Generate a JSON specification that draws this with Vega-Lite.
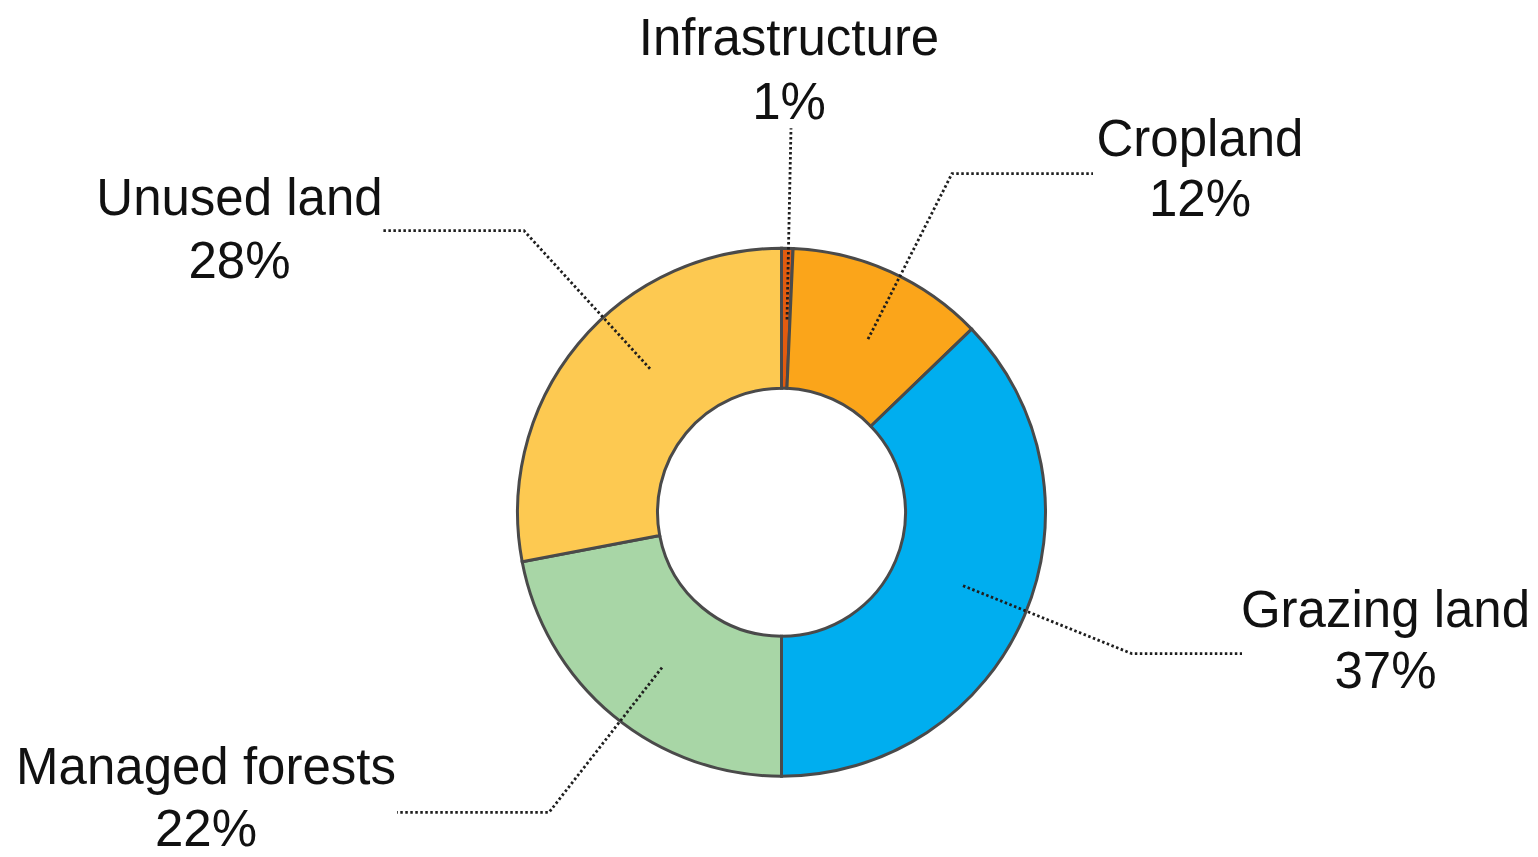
{
  "$schema": "https://vega.github.io/schema/vega-lite/v6.json",
  "width": 1538,
  "height": 857,
  "autosize": {"type": "fit", "contains": "padding"},
  "padding": 0,
  "background": "white",
  "config": {"view": {"stroke": null}},
  "datasets": {
    "slices": [
      {"category": "Infrastructure", "share": 0.7, "idx": 1},
      {"category": "Cropland", "share": 12.1, "idx": 2},
      {"category": "Grazing land", "share": 37.2, "idx": 3},
      {"category": "Managed forests", "share": 22.0, "idx": 4},
      {"category": "Unused land", "share": 28.0, "idx": 5}
    ],
    "labels": [
      {"text": "Infrastructure", "lx": 7.5, "ly": 463.5},
      {"text": "1%", "lx": 7.5, "ly": 398.5},
      {"text": "Cropland", "lx": 418.5, "ly": 361.5},
      {"text": "12%", "lx": 418.5, "ly": 300},
      {"text": "Unused land", "lx": -542, "ly": 301.5},
      {"text": "28%", "lx": -542, "ly": 238},
      {"text": "Grazing land", "lx": 604, "ly": -116.5},
      {"text": "37%", "lx": 604, "ly": -178.5},
      {"text": "Managed forests", "lx": -575.5, "ly": -276},
      {"text": "22%", "lx": -575.5, "ly": -339}
    ],
    "leaders": [
      {"group": "Infrastructure", "pt": 1, "lx": 5.5, "ly": 195.5},
      {"group": "Infrastructure", "pt": 2, "lx": 9.5, "ly": 389.5},
      {"group": "Cropland", "pt": 1, "lx": 86.5, "ly": 175.5},
      {"group": "Cropland", "pt": 2, "lx": 170.5, "ly": 343.5},
      {"group": "Cropland", "pt": 3, "lx": 311.5, "ly": 343.5},
      {"group": "Grazing land", "pt": 1, "lx": 181.5, "ly": -74.5},
      {"group": "Grazing land", "pt": 2, "lx": 350.5, "ly": -143.5},
      {"group": "Grazing land", "pt": 3, "lx": 460.5, "ly": -143.5},
      {"group": "Managed forests", "pt": 1, "lx": -119.5, "ly": -157.5},
      {"group": "Managed forests", "pt": 2, "lx": -232.5, "ly": -304.5},
      {"group": "Managed forests", "pt": 3, "lx": -384.5, "ly": -304.5},
      {"group": "Unused land", "pt": 1, "lx": -131.5, "ly": 145.5},
      {"group": "Unused land", "pt": 2, "lx": -257.5, "ly": 285.5},
      {"group": "Unused land", "pt": 3, "lx": -398.5, "ly": 285.5}
    ]
  },
  "layer": [
    {
      "data": {"name": "slices"},
      "mark": {"type": "arc", "outerRadius": 264, "innerRadius": 124, "stroke": "#4a4a4a", "strokeWidth": 3},
      "encoding": {
        "x": {"datum": 0, "type": "quantitative", "scale": {"domain": [-781.5, 756.5], "nice": false, "zero": false}, "axis": null},
        "y": {"datum": 0, "type": "quantitative", "scale": {"domain": [-337.5, 519.5], "nice": false, "zero": false}, "axis": null},
        "theta": {"field": "share", "type": "quantitative", "stack": true},
        "order": {"field": "idx", "type": "quantitative"},
        "color": {
          "field": "category",
          "type": "nominal",
          "scale": {
            "domain": ["Infrastructure", "Cropland", "Grazing land", "Managed forests", "Unused land"],
            "range": ["#E35B0F", "#FBA51A", "#00AEEF", "#A8D6A6", "#FDC951"]
          },
          "legend": null
        }
      }
    },
    {
      "data": {"name": "leaders"},
      "mark": {"type": "line", "color": "#1e1e1e", "strokeWidth": 2.8, "strokeDash": [2.5, 2.5]},
      "encoding": {
        "x": {"field": "lx", "type": "quantitative", "axis": null},
        "y": {"field": "ly", "type": "quantitative", "axis": null},
        "detail": {"field": "group"},
        "order": {"field": "pt", "type": "quantitative"}
      }
    },
    {
      "data": {"name": "labels"},
      "mark": {"type": "text", "font": "Liberation Sans", "fontSize": 51, "align": "center", "baseline": "alphabetic", "color": "#111111"},
      "encoding": {
        "x": {"field": "lx", "type": "quantitative", "axis": null},
        "y": {"field": "ly", "type": "quantitative", "axis": null},
        "text": {"field": "text"}
      }
    }
  ]
}
